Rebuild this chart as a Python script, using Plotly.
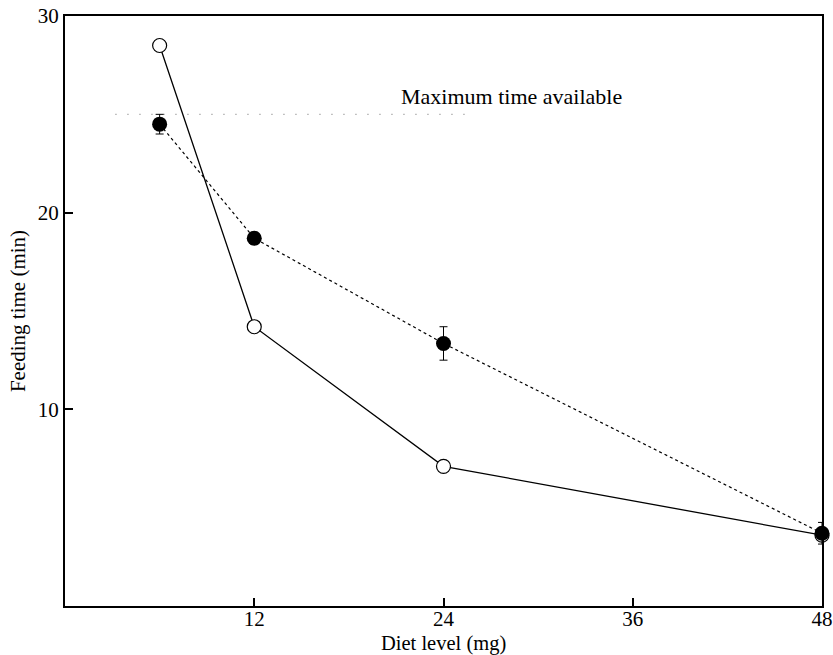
import plotly.graph_objects as go

diet_level = [6, 12, 24, 48]
open_time = [28.5, 14.2, 7.1, 3.6]
filled_time = [24.5, 18.7, 13.35, 3.7]
filled_err = [0.5, 0.3, 0.85, 0.55]
max_time = 25
max_line_x = [3.2, 26]
x_ticks = [12, 24, 36, 48]
y_ticks = [10, 20, 30]

FONT = "Liberation Serif"

fig = go.Figure()

fig.add_trace(go.Scatter(
    x=max_line_x, y=[max_time, max_time], mode="lines",
    line=dict(color="#888888", width=1.2, dash="1px,11px"),
    showlegend=False, hoverinfo="skip"))

fig.add_trace(go.Scatter(
    x=diet_level, y=open_time, mode="lines+markers",
    line=dict(color="black", width=1.3),
    marker=dict(symbol="circle", size=14, color="white",
                line=dict(color="black", width=1.2)),
    cliponaxis=False, showlegend=False))

fig.add_trace(go.Scatter(
    x=diet_level, y=filled_time, mode="lines+markers",
    line=dict(color="black", width=1.2, dash="dot"),
    marker=dict(symbol="circle", size=15, color="black"),
    error_y=dict(type="data", array=filled_err, visible=True,
                 color="black", thickness=1, width=4),
    cliponaxis=False, showlegend=False))

fig.add_annotation(x=28.3, y=25.9, xref="x", yref="y",
                   text="Maximum time available", showarrow=False,
                   font=dict(family=FONT, size=22, color="black"))

fig.add_annotation(x=0.5, y=0.0, xref="paper", yref="paper",
                   xanchor="center", yanchor="middle",
                   yshift=-37, text="Diet level (mg)", showarrow=False,
                   font=dict(family=FONT, size=20.5, color="black"))

fig.update_xaxes(range=[0, 48], tickvals=x_ticks, automargin=False,
                 ticks="inside", ticklen=8, tickwidth=1.5, tickcolor="black",
                 ticklabelstandoff=-7,
                 showline=True, linecolor="black", linewidth=2, mirror=True,
                 showgrid=False, zeroline=False,
                 tickfont=dict(family=FONT, size=21, color="black"))
fig.update_yaxes(range=[0, 30], tickvals=y_ticks, automargin=False,
                 ticks="inside", ticklen=8, tickwidth=1.5, tickcolor="black",
                 showline=True, linecolor="black", linewidth=2, mirror=True,
                 showgrid=False, zeroline=False,
                 tickfont=dict(family=FONT, size=21, color="black"),
                 title=dict(text="Feeding time (min)", standoff=6,
                            font=dict(family=FONT, size=21, color="black")))

fig.update_layout(width=833, height=655,
                  margin=dict(l=65, r=11, t=16, b=49),
                  paper_bgcolor="white", plot_bgcolor="white")

fig.write_html("out.html")
